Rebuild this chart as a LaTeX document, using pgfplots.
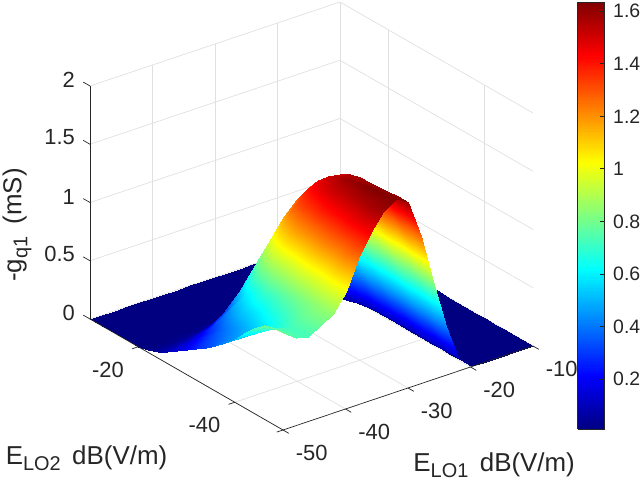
\documentclass[border=0pt]{standalone}
\usepackage{fontspec}
\setmainfont{Liberation Sans}
\usepackage{pgfplots}
\pgfplotsset{compat=1.18}
\definecolor{axgray}{gray}{0.15}
\definecolor{gridgray}{gray}{0.88}
\newcommand{\lowsub}[1]{\raisebox{-6bp}{\fontsize{20}{20}\selectfont #1}}

\begin{document}
\begin{tikzpicture}[x=1bp,y=1bp]
\useasboundingbox (0,0) rectangle (640,486);
\begin{axis}[
    at={(90bp,56bp)},
    anchor=south west,
    x={(6.25bp,2.1bp)},
    y={(-4.825bp,2.775bp)},
    z={(0bp,116.5bp)},
    xmin=-50, xmax=-10,
    ymin=-50, ymax=-10,
    zmin=0, zmax=2,
    xtick={-50,-40,-30,-20,-10},
    ytick={-40,-20},
    ztick={0,0.5,1,1.5,2},
    xtick pos=bottom,
    ytick pos=bottom,
    ztick pos=left,
    grid=major,
    major grid style={draw=gridgray, line width=0.7bp},
    axis line style={draw=none},
    tick align=outside,
    major tick length=0bp,
    tick style={draw=none},
    /pgf/number format/assume math mode=true,
    tick label style={font=\fontsize{22}{22}\selectfont, text=axgray, inner sep=2bp},
    xticklabel style={xshift=21bp, yshift=-10bp},
    yticklabel style={xshift=-20bp, yshift=-8.5bp},
    zticklabel style={xshift=-13bp, yshift=5bp},
    xlabel={E\lowsub{LO1} \,dB(V/m)},
    ylabel={E\lowsub{LO2} \,dB(V/m)},
    zlabel={-g\lowsub{q1}\hspace{12bp}(mS)},
    label style={font=\fontsize{26}{26}\selectfont, text=axgray, inner sep=0pt},
    xlabel style={at={(axis cs:-35.4,-73.6,0)}, anchor=center, sloped=false, rotate=0, xshift=6bp},
    ylabel style={at={(axis cs:-74.8,-41.4,0)}, anchor=center, sloped=false, rotate=0},
    zlabel style={at={(axis cs:-50,-10,0.807)}, anchor=center, rotate=0, yshift=73bp},
    colormap/jet,
    point meta min=0.01,
    point meta max=1.635,
    colorbar sampled,
    colorbar style={
        samples=200,
        at={(parent axis.south west)},
        anchor=south west,
        xshift=479bp,
        yshift=1bp,
        width=27bp,
        height=427bp,
        ytick={0.2,0.4,0.6,0.8,1,1.2,1.4,1.6},
        ytick pos=right,
        yticklabel pos=right,
        tick align=inside,
        major tick length=5bp,
        axis line style={draw=axgray, line width=0.7bp},
        tick style={draw=axgray, line width=0.7bp},
        tick label style={font=\fontsize{19.5}{19.5}\selectfont, text=axgray},
        yticklabel style={inner sep=0pt, xshift=8.5bp},
        /pgf/number format/assume math mode=true,
    },
    clip=false,
]
\addplot3[surf, shader=interp, z buffer=none, mesh/rows=18, mesh/ordering=x varies] coordinates {
(-10,-10,0) (-18,-10,0) (-20,-10,0) (-22,-10,0) (-24,-10,0) (-26,-10,0) (-28,-10,0) (-30,-10,0) (-32,-10,0) (-34,-10,0) (-36,-10,0) (-38,-10,0) (-40,-10,0) (-42,-10,0) (-44,-10,0) (-46,-10,0) (-48,-10,0) (-50,-10,0)

(-10,-18,0) (-18,-18,0) (-20,-18,0) (-22,-18,0) (-24,-18,0) (-26,-18,0) (-28,-18,0) (-30,-18,0) (-32,-18,0) (-34,-18,0) (-36,-18,0) (-38,-18,0) (-40,-18,0) (-42,-18,0) (-44,-18,0) (-46,-18,0) (-48,-18,0) (-50,-18,0)

(-10,-20,0) (-18,-20,0) (-20,-20,0) (-22,-20,0) (-24,-20,.01) (-26,-20,.01) (-28,-20,.01) (-30,-20,.02) (-32,-20,.02) (-34,-20,.02) (-36,-20,.01) (-38,-20,.01) (-40,-20,.01) (-42,-20,.01) (-44,-20,0) (-46,-20,0) (-48,-20,0) (-50,-20,0)

(-10,-22,0) (-18,-22,0) (-20,-22,0) (-22,-22,.01) (-24,-22,.03) (-26,-22,.07) (-28,-22,.10) (-30,-22,.10) (-32,-22,.08) (-34,-22,.08) (-36,-22,.07) (-38,-22,.06) (-40,-22,.05) (-42,-22,.03) (-44,-22,.03) (-46,-22,.02) (-48,-22,.02) (-50,-22,.02)

(-10,-24,0) (-18,-24,0) (-20,-24,0) (-22,-24,.03) (-24,-24,.09) (-26,-24,.20) (-28,-24,.28) (-30,-24,.30) (-32,-24,.25) (-34,-24,.24) (-36,-24,.22) (-38,-24,.19) (-40,-24,.15) (-42,-24,.11) (-44,-24,.09) (-46,-24,.07) (-48,-24,.06) (-50,-24,.05)

(-10,-26,0) (-18,-26,0) (-20,-26,0) (-22,-26,.05) (-24,-26,.18) (-26,-26,.39) (-28,-26,.53) (-30,-26,.58) (-32,-26,.50) (-34,-26,.47) (-36,-26,.44) (-38,-26,.38) (-40,-26,.30) (-42,-26,.22) (-44,-26,.18) (-46,-26,.14) (-48,-26,.12) (-50,-26,.10)

(-10,-28,0) (-18,-28,0) (-20,-28,.01) (-22,-28,.08) (-24,-28,.27) (-26,-28,.60) (-28,-28,.83) (-30,-28,.90) (-32,-28,.80) (-34,-28,.76) (-36,-28,.70) (-38,-28,.60) (-40,-28,.48) (-42,-28,.36) (-44,-28,.28) (-46,-28,.22) (-48,-28,.18) (-50,-28,.15)

(-10,-30,0) (-18,-30,0) (-20,-30,.01) (-22,-30,.10) (-24,-30,.38) (-26,-30,.78) (-28,-30,1.08) (-30,-30,1.18) (-32,-30,1.10) (-34,-30,1.04) (-36,-30,.96) (-38,-30,.83) (-40,-30,.66) (-42,-30,.49) (-44,-30,.40) (-46,-30,.30) (-48,-30,.25) (-50,-30,.21)

(-10,-32,0) (-18,-32,0) (-20,-32,.01) (-22,-32,.11) (-24,-32,.43) (-26,-32,.87) (-28,-32,1.21) (-30,-32,1.36) (-32,-32,1.33) (-34,-32,1.26) (-36,-32,1.16) (-38,-32,1.00) (-40,-32,.80) (-42,-32,.60) (-44,-32,.48) (-46,-32,.37) (-48,-32,.32) (-50,-32,.27)

(-10,-34,0) (-18,-34,0) (-20,-34,.01) (-22,-34,.12) (-24,-34,.45) (-26,-34,.92) (-28,-34,1.27) (-30,-34,1.43) (-32,-34,1.44) (-34,-34,1.39) (-36,-34,1.28) (-38,-34,1.10) (-40,-34,.88) (-42,-34,.66) (-44,-34,.54) (-46,-34,.43) (-48,-34,.37) (-50,-34,.32)

(-10,-36,0) (-18,-36,0) (-20,-36,.01) (-22,-36,.12) (-24,-36,.45) (-26,-36,.92) (-28,-36,1.27) (-30,-36,1.50) (-32,-36,1.52) (-34,-36,1.45) (-36,-36,1.33) (-38,-36,1.15) (-40,-36,.92) (-42,-36,.71) (-44,-36,.58) (-46,-36,.47) (-48,-36,.42) (-50,-36,.39)

(-10,-38,0) (-18,-38,0) (-20,-38,.01) (-22,-38,.12) (-24,-38,.45) (-26,-38,.91) (-28,-38,1.27) (-30,-38,1.55) (-32,-38,1.56) (-34,-38,1.49) (-36,-38,1.36) (-38,-38,1.18) (-40,-38,.94) (-42,-38,.73) (-44,-38,.62) (-46,-38,.52) (-48,-38,.47) (-50,-38,.46)

(-10,-40,0) (-18,-40,0) (-20,-40,.01) (-22,-40,.12) (-24,-40,.44) (-26,-40,.90) (-28,-40,1.27) (-30,-40,1.57) (-32,-40,1.59) (-34,-40,1.52) (-36,-40,1.39) (-38,-40,1.20) (-40,-40,.96) (-42,-40,.77) (-44,-40,.66) (-46,-40,.56) (-48,-40,.53) (-50,-40,.54)

(-10,-42,0) (-18,-42,0) (-20,-42,.01) (-22,-42,.12) (-24,-42,.44) (-26,-42,.89) (-28,-42,1.27) (-30,-42,1.58) (-32,-42,1.61) (-34,-42,1.53) (-36,-42,1.41) (-38,-42,1.21) (-40,-42,.97) (-42,-42,.79) (-44,-42,.70) (-46,-42,.62) (-48,-42,.61) (-50,-42,.64)

(-10,-44,0) (-18,-44,0) (-20,-44,.01) (-22,-44,.12) (-24,-44,.43) (-26,-44,.88) (-28,-44,1.27) (-30,-44,1.58) (-32,-44,1.63) (-34,-44,1.55) (-36,-44,1.42) (-38,-44,1.23) (-40,-44,.98) (-42,-44,.82) (-44,-44,.74) (-46,-44,.67) (-48,-44,.68) (-50,-44,.73)

(-10,-46,0) (-18,-46,0) (-20,-46,.01) (-22,-46,.12) (-24,-46,.43) (-26,-46,.87) (-28,-46,1.27) (-30,-46,1.59) (-32,-46,1.64) (-34,-46,1.56) (-36,-46,1.44) (-38,-46,1.24) (-40,-46,.99) (-42,-46,.84) (-44,-46,.78) (-46,-46,.72) (-48,-46,.74) (-50,-46,.81)

(-10,-48,0) (-18,-48,0) (-20,-48,.01) (-22,-48,.12) (-24,-48,.42) (-26,-48,.86) (-28,-48,1.27) (-30,-48,1.60) (-32,-48,1.66) (-34,-48,1.58) (-36,-48,1.45) (-38,-48,1.25) (-40,-48,1.00) (-42,-48,.85) (-44,-48,.79) (-46,-48,.73) (-48,-48,.75) (-50,-48,.83)

(-10,-50,0) (-18,-50,0) (-20,-50,.01) (-22,-50,.12) (-24,-50,.42) (-26,-50,.85) (-28,-50,1.27) (-30,-50,1.60) (-32,-50,1.66) (-34,-50,1.58) (-36,-50,1.45) (-38,-50,1.25) (-40,-50,1.00) (-42,-50,.85) (-44,-50,.79) (-46,-50,.73) (-48,-50,.75) (-50,-50,.83)
};
\draw[axgray, line width=0.7bp] (axis cs:-50,-10,0) -- (axis cs:-50,-10,2);
\draw[axgray, line width=0.7bp] (axis cs:-50,-10,0) -- (axis cs:-50,-50,0) -- (axis cs:-10,-50,0);
% tick marks, along the floor the way MATLAB draws them
\draw[axgray, line width=0.7bp] (axis cs:-50,-10,0) -- (axis cs:-50,-8.6,0) (axis cs:-50,-10,0.5) -- (axis cs:-50,-8.6,0.5) (axis cs:-50,-10,1) -- (axis cs:-50,-8.6,1) (axis cs:-50,-10,1.5) -- (axis cs:-50,-8.6,1.5) (axis cs:-50,-10,2) -- (axis cs:-50,-8.6,2);
\draw[axgray, line width=0.7bp] (axis cs:-50,-50,0) -- (axis cs:-50,-51.2,0) (axis cs:-40,-50,0) -- (axis cs:-40,-51.2,0) (axis cs:-30,-50,0) -- (axis cs:-30,-51.2,0) (axis cs:-20,-50,0) -- (axis cs:-20,-51.2,0) (axis cs:-10,-50,0) -- (axis cs:-10,-51.2,0);
\draw[axgray, line width=0.7bp] (axis cs:-50,-40,0) -- (axis cs:-51,-40,0) (axis cs:-50,-20,0) -- (axis cs:-51,-20,0) (axis cs:-50,-50,0) -- (axis cs:-51,-50,0);
\end{axis}
\end{tikzpicture}
\end{document}
